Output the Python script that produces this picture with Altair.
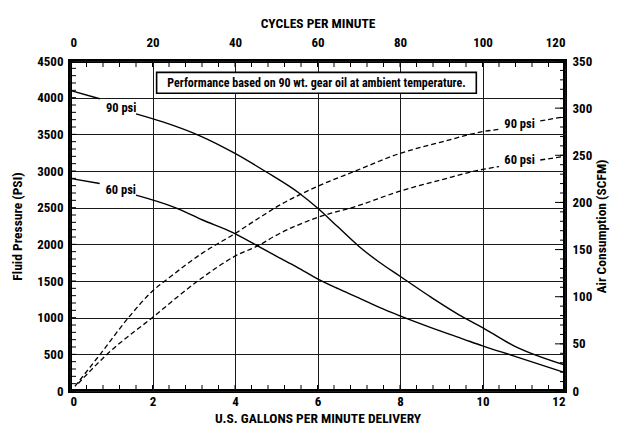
import altair as alt
import pandas as pd

# ---------------- data ----------------
# Fluid pressure curves (PSI) vs U.S. GPM
gpm_90 = [0.0, 0.72, 1.6, 2.25, 3.15, 4.0, 4.75, 5.55, 6.0, 6.5, 7.0, 7.5, 8.0, 8.75, 9.55, 10.0, 10.75, 12.0]
psi_90 = [4100, 3985, 3780, 3670, 3480, 3240, 2990, 2700, 2495, 2235, 1975, 1755, 1565, 1280, 1000, 865, 620, 355]
seg_90 = ["a", "a"] + ["b"] * 16

gpm_60 = [0.0, 0.72, 1.6, 2.55, 3.2, 3.95, 4.45, 5.0, 5.5, 6.0, 6.5, 7.0, 7.5, 8.0, 8.75, 9.55, 10.0, 10.75, 12.0]
psi_60 = [2900, 2830, 2670, 2500, 2335, 2160, 2010, 1840, 1690, 1530, 1395, 1270, 1140, 1025, 865, 705, 615, 480, 250]
seg_60 = ["a", "a"] + ["b"] * 17

# Air consumption curves (SCFM) vs U.S. GPM
air_gpm_90 = [0.12, 0.75, 1.44, 2.0, 2.4, 3.2, 4.0, 4.6, 5.0, 6.0, 6.9, 8.0, 9.0, 10.0, 10.4, 11.4, 12.0]
air_90 = [5, 40, 79, 106, 120, 146, 167, 184, 195, 217, 233, 252, 264, 275, 277.5, 286.5, 291]
air_seg_90 = ["a"] * 15 + ["b"] * 2

air_gpm_60 = [0.2, 0.9, 2.0, 3.17, 4.0, 4.6, 4.95, 6.0, 6.95, 8.0, 9.0, 10.0, 10.4, 11.4, 12.0]
air_60 = [8, 39, 78, 119, 143, 155, 164, 184, 196, 212, 224, 235, 238, 245, 249]
air_seg_60 = ["a"] * 13 + ["b"] * 2

# curve labels
psi_label_text = ["90 psi", "60 psi"]
psi_label_gpm = [1.24, 1.23]
psi_label_val = [3860, 2735]

air_label_text = ["90 psi", "60 psi"]
air_label_gpm = [10.9, 10.9]
air_label_val = [283, 245]

note_text = ["Performance based on 90 wt. gear oil at ambient temperature."]
note_gpm = [2.1, 9.85]
note_psi = [4060, 4345]

# axes
gpm_ticks = [0, 2, 4, 6, 8, 10, 12]
psi_ticks = [0, 500, 1000, 1500, 2000, 2500, 3000, 3500, 4000, 4500]
cpm_ticks = [0, 20, 40, 60, 80, 100, 120]
scfm_ticks = [0, 50, 100, 150, 200, 250, 300, 350]
gpm_minor = [round(i * 0.4, 1) for i in range(31)]
cpm_minor = [i * 4 for i in range(31)]
psi_minor = [i * 100 for i in range(46)]
scfm_minor = [i * 10 for i in range(36)]

FONT = "Liberation Sans Narrow, Arial Narrow, Roboto Condensed, Liberation Sans, sans-serif"
W, H = 495, 330

gx = alt.Scale(domain=[0, 12], nice=False, zero=False)
py = alt.Scale(domain=[0, 4500], nice=False)
sy = alt.Scale(domain=[0, 350], nice=False)
cx = alt.Scale(domain=[0, 120], nice=False)

lab = dict(labelFontSize=13, labelFont=FONT, labelFontWeight="bold", labelColor="black",
           titleFont=FONT, titleFontSize=13.5, titleFontWeight="bold", titleColor="black",
           domain=False, ticks=False)


def curve_df(g, v, s, name):
    return pd.DataFrame({"gpm": g, "val": v, "seg": [name + x for x in s]})


psi_df = pd.concat([curve_df(gpm_90, psi_90, seg_90, "90"),
                    curve_df(gpm_60, psi_60, seg_60, "60")])
air_df = pd.concat([curve_df(air_gpm_90, air_90, air_seg_90, "90"),
                    curve_df(air_gpm_60, air_60, air_seg_60, "60")])

x_main = alt.X("gpm:Q", scale=gx, axis=alt.Axis(
    orient="bottom", values=gpm_ticks, format="d", grid=True, gridColor="#1a1a1a",
    gridWidth=1, labelPadding=4, title="U.S. GALLONS PER MINUTE DELIVERY",
    titlePadding=3, **lab))
y_main = alt.Y("val:Q", scale=py, axis=alt.Axis(
    orient="left", values=psi_ticks, format="d", grid=True, gridColor="#1a1a1a",
    gridWidth=1, labelPadding=7, title="Fluid Pressure (PSI)", titlePadding=12, **lab))

solid = alt.Chart(psi_df).mark_line(color="black", strokeWidth=1.4, interpolate="monotone").encode(
    x=x_main, y=y_main, detail="seg:N")

psi_lab_df = pd.DataFrame({"gpm": psi_label_gpm, "val": psi_label_val, "t": psi_label_text})
psi_labels = alt.Chart(psi_lab_df).mark_text(font=FONT, fontSize=12.5, fontWeight="bold", color="black").encode(
    x=alt.X("gpm:Q", scale=gx, axis=None), y=alt.Y("val:Q", scale=py, axis=None), text="t:N")

note_df = pd.DataFrame({"g1": [note_gpm[0]], "g2": [note_gpm[1]], "p1": [note_psi[0]], "p2": [note_psi[1]],
                        "gm": [(note_gpm[0] + note_gpm[1]) / 2], "pm": [(note_psi[0] + note_psi[1]) / 2],
                        "t": note_text})
note_box = alt.Chart(note_df).mark_rect(fill="white", stroke="black", strokeWidth=1.6).encode(
    x=alt.X("g1:Q", scale=gx, axis=None), x2="g2:Q",
    y=alt.Y("p1:Q", scale=py, axis=None), y2="p2:Q")
note_txt = alt.Chart(note_df).mark_text(font=FONT, fontSize=12, fontWeight="bold", color="black").encode(
    x=alt.X("gm:Q", scale=gx, axis=None), y=alt.Y("pm:Q", scale=py, axis=None), text="t:N")

# air consumption (right axis)
y_air = alt.Y("val:Q", scale=sy, axis=alt.Axis(
    orient="right", values=scfm_ticks, format="d", grid=False, labelPadding=7,
    title="Air Consumption (SCFM)", titleAngle=-90, titlePadding=17, **lab))
dashed = alt.Chart(air_df).mark_line(color="black", strokeWidth=1.3, strokeDash=[5, 3],
                                     interpolate="monotone").encode(
    x=alt.X("gpm:Q", scale=gx, axis=None), y=y_air, detail="seg:N")
air_lab_df = pd.DataFrame({"gpm": air_label_gpm, "val": air_label_val, "t": air_label_text})
air_labels = alt.Chart(air_lab_df).mark_text(font=FONT, fontSize=12.5, fontWeight="bold", color="black").encode(
    x=alt.X("gpm:Q", scale=gx, axis=None), y=alt.Y("val:Q", scale=sy, axis=None), text="t:N")

# top axis: cycles per minute
cpm_df = pd.DataFrame({"c": cpm_ticks})
top = alt.Chart(cpm_df).mark_point(opacity=0).encode(
    x=alt.X("c:Q", scale=cx, axis=alt.Axis(
        orient="top", values=cpm_ticks, format="d", grid=False, labelPadding=12,
        title="CYCLES PER MINUTE", titlePadding=6, **lab)),
    y=alt.value(0))

# inward minor ticks along the frame
tick_style = dict(color="black", strokeWidth=1)
t_bottom = alt.Chart(pd.DataFrame({"v": gpm_minor})).mark_rule(**tick_style).encode(
    x=alt.X("v:Q", scale=gx, axis=None), y=alt.value(H - 6), y2=alt.value(H))
t_top = alt.Chart(pd.DataFrame({"v": cpm_minor})).mark_rule(**tick_style).encode(
    x=alt.X("v:Q", scale=cx, axis=None), y=alt.value(0), y2=alt.value(6))
t_left = alt.Chart(pd.DataFrame({"v": psi_minor})).mark_rule(**tick_style).encode(
    y=alt.Y("v:Q", scale=py, axis=None), x=alt.value(0), x2=alt.value(6))
t_right = alt.Chart(pd.DataFrame({"v": scfm_minor})).mark_rule(**tick_style).encode(
    y=alt.Y("v:Q", scale=sy, axis=None), x=alt.value(W - 5), x2=alt.value(W))
t_right_major = alt.Chart(pd.DataFrame({"v": scfm_ticks})).mark_rule(**tick_style).encode(
    y=alt.Y("v:Q", scale=sy, axis=None), x=alt.value(W - 10), x2=alt.value(W))

chart = alt.layer(
    solid, psi_labels, note_box, note_txt, dashed, air_labels, top,
    t_bottom, t_top, t_left, t_right, t_right_major
).resolve_scale(
    x="independent", y="independent"
).properties(
    width=W, height=H,
    padding={"left": 62, "top": 53, "right": 48, "bottom": 35},
    autosize=alt.AutoSizeParams(type="none"),
    background="white",
).configure_view(stroke="black", strokeWidth=4)

chart.save("out.html", embed_options={"renderer": "svg", "actions": False})
